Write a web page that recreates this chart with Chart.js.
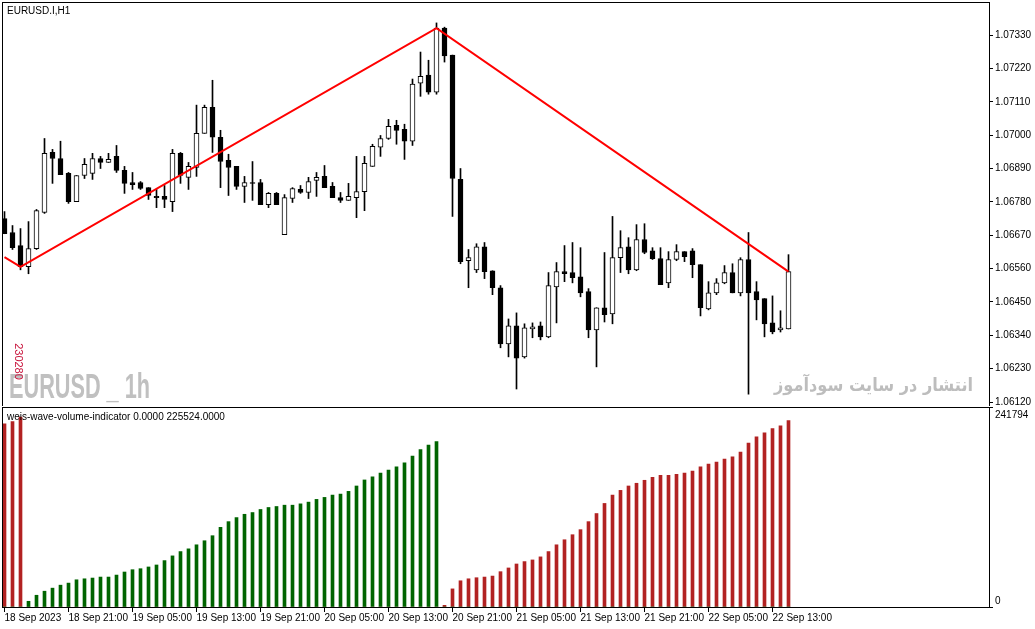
<!DOCTYPE html>
<html lang="fa">
<head>
    <meta charset="UTF-8">
    <title>EURUSD.I,H1</title>
    <style>
        body {
            margin: 0;
            background: #fff;
            font-family: "Liberation Sans", Arial, sans-serif;
        }
        .pane {
            position: absolute;
            left: 0;
        }
        #pricePane { top: 0; }
        #wavePane { top: 406px; }
    </style>
</head>
<body>
    <div class="pane" id="pricePane"><canvas id="priceChart" width="1035" height="406"></canvas></div>
    <div class="pane" id="wavePane"><canvas id="waveChart" width="1035" height="223"></canvas></div>

    <script src="https://cdn.jsdelivr.net/npm/chart.js"></script>
    <script>
        // EURUSD H1 candles, 18-22 Sep 2023
        const opens = [
            1.06725, 1.06679, 1.06636, 1.06566, 1.06626, 1.06745, 1.06943, 1.06923, 1.06874, 1.06781,
            1.06867, 1.06874, 1.06923, 1.06910, 1.06930, 1.06884, 1.06844, 1.06844, 1.06827, 1.06798,
            1.06798, 1.06781, 1.06940, 1.06861, 1.06894, 1.07006, 1.07092, 1.06993, 1.06917, 1.06897,
            1.06831, 1.06844, 1.06844, 1.06771, 1.06808, 1.06672, 1.06791, 1.06821, 1.06811, 1.06851,
            1.06864, 1.06831, 1.06794, 1.06785, 1.06794, 1.06814, 1.06897, 1.06960, 1.06989, 1.07032,
            1.07019, 1.06980, 1.07171, 1.07198, 1.07142, 1.07353, 1.07264, 1.06854, 1.06586, 1.06556,
            1.06632, 1.06553, 1.06497, 1.06312, 1.06371, 1.06269, 1.06361, 1.06371, 1.06335, 1.06500,
            1.06550, 1.06547, 1.06533, 1.06484, 1.06358, 1.06431, 1.06411, 1.06596, 1.06632, 1.06556,
            1.06656, 1.06619, 1.06593, 1.06513, 1.06590, 1.06616, 1.06619, 1.06573, 1.06427, 1.06480,
            1.06513, 1.06547, 1.06480, 1.06590, 1.06484, 1.06461, 1.06381, 1.06358, 1.06361
        ];
        const highs = [
            1.06748, 1.06702, 1.06692, 1.06715, 1.06755, 1.06989, 1.06953, 1.06980, 1.06877, 1.06867,
            1.06923, 1.06940, 1.06930, 1.06940, 1.06966, 1.06897, 1.06877, 1.06847, 1.06827, 1.06821,
            1.06834, 1.06953, 1.06943, 1.06910, 1.07099, 1.07099, 1.07181, 1.07016, 1.06937, 1.06897,
            1.06864, 1.06913, 1.06854, 1.06811, 1.06811, 1.06804, 1.06827, 1.06834, 1.06861, 1.06877,
            1.06900, 1.06844, 1.06811, 1.06841, 1.06930, 1.06930, 1.06970, 1.06999, 1.07052, 1.07049,
            1.07036, 1.07185, 1.07274, 1.07247, 1.07370, 1.07356, 1.07264, 1.06890, 1.06623, 1.06642,
            1.06646, 1.06553, 1.06504, 1.06394, 1.06414, 1.06378, 1.06381, 1.06384, 1.06547, 1.06580,
            1.06636, 1.06646, 1.06629, 1.06494, 1.06431, 1.06613, 1.06732, 1.06685, 1.06662, 1.06705,
            1.06708, 1.06629, 1.06629, 1.06616, 1.06639, 1.06616, 1.06626, 1.06573, 1.06517, 1.06527,
            1.06570, 1.06576, 1.06596, 1.06679, 1.06517, 1.06461, 1.06470, 1.06421, 1.06606
        ];
        const lows = [
            1.06675, 1.06623, 1.06556, 1.06543, 1.06623, 1.06742, 1.06841, 1.06870, 1.06775, 1.06781,
            1.06857, 1.06854, 1.06890, 1.06910, 1.06877, 1.06808, 1.06821, 1.06821, 1.06788, 1.06761,
            1.06761, 1.06748, 1.06841, 1.06821, 1.06864, 1.07006, 1.06943, 1.06827, 1.06801, 1.06821,
            1.06778, 1.06785, 1.06771, 1.06761, 1.06771, 1.06672, 1.06778, 1.06808, 1.06791, 1.06798,
            1.06827, 1.06794, 1.06778, 1.06785, 1.06728, 1.06751, 1.06897, 1.06930, 1.06986, 1.06970,
            1.06920, 1.06966, 1.07128, 1.07135, 1.07135, 1.07241, 1.06732, 1.06576, 1.06497, 1.06547,
            1.06527, 1.06474, 1.06299, 1.06269, 1.06163, 1.06265, 1.06332, 1.06325, 1.06332, 1.06381,
            1.06517, 1.06513, 1.06467, 1.06332, 1.06236, 1.06384, 1.06378, 1.06547, 1.06543, 1.06553,
            1.06609, 1.06590, 1.06507, 1.06497, 1.06586, 1.06583, 1.06530, 1.06404, 1.06424, 1.06474,
            1.06510, 1.06480, 1.06470, 1.06146, 1.06391, 1.06335, 1.06345, 1.06351, 1.06361
        ];
        const closes = [
            1.06675, 1.06629, 1.06566, 1.06626, 1.06751, 1.06940, 1.06923, 1.06870, 1.06781, 1.06867,
            1.06904, 1.06923, 1.06910, 1.06920, 1.06884, 1.06841, 1.06837, 1.06824, 1.06801, 1.06794,
            1.06788, 1.06940, 1.06867, 1.06897, 1.07006, 1.07092, 1.06993, 1.06913, 1.06894, 1.06831,
            1.06844, 1.06841, 1.06771, 1.06808, 1.06771, 1.06794, 1.06824, 1.06811, 1.06847, 1.06861,
            1.06827, 1.06794, 1.06785, 1.06798, 1.06814, 1.06907, 1.06963, 1.06989, 1.07029, 1.07016,
            1.06980, 1.07168, 1.07194, 1.07142, 1.07353, 1.07261, 1.06857, 1.06583, 1.06596, 1.06632,
            1.06550, 1.06497, 1.06312, 1.06371, 1.06265, 1.06365, 1.06368, 1.06335, 1.06504, 1.06550,
            1.06543, 1.06530, 1.06480, 1.06358, 1.06431, 1.06408, 1.06596, 1.06629, 1.06556, 1.06656,
            1.06613, 1.06593, 1.06507, 1.06590, 1.06616, 1.06599, 1.06573, 1.06431, 1.06480, 1.06513,
            1.06547, 1.06480, 1.06590, 1.06480, 1.06457, 1.06378, 1.06351, 1.06365, 1.06550
        ];

        // zigzag pivots (bar index / price)
        const zigzagBars = [0, 2, 54, 98];
        const zigzagPrices = [1.06598, 1.06566, 1.07353, 1.06550];

        // weis wave volume: up wave buffer and down wave buffer
        const upWave = [
            0, 0, 0, 6900, 14200, 19100, 22800, 26400, 28900, 32900,
            34100, 35000, 36200, 36200, 38600, 42300, 45100, 46300, 48400, 50800,
            56100, 61800, 67000, 70300, 75200, 80100, 86200, 96300, 103200, 108100,
            112100, 114200, 117900, 120300, 121500, 123100, 123100, 124700, 126800, 130100,
            132500, 135300, 136500, 139800, 146300, 153600, 157300, 161800, 165400, 169400,
            174300, 182500, 190200, 195900, 199900, 0, 0, 0, 0, 0,
            0, 0, 0, 0, 0, 0, 0, 0, 0, 0,
            0, 0, 0, 0, 0, 0, 0, 0, 0, 0,
            0, 0, 0, 0, 0, 0, 0, 0, 0, 0,
            0, 0, 0, 0, 0, 0, 0, 0, 0
        ];
        const downWave = [
            221500, 224300, 229600, 0, 0, 0, 0, 0, 0, 0,
            0, 0, 0, 0, 0, 0, 0, 0, 0, 0,
            0, 0, 0, 0, 0, 0, 0, 0, 0, 0,
            0, 0, 0, 0, 0, 0, 0, 0, 0, 0,
            0, 0, 0, 0, 0, 0, 0, 0, 0, 0,
            0, 0, 0, 0, 0, 2000, 21900, 31700, 34100, 35400,
            36200, 37400, 42700, 47200, 52000, 54900, 56900, 60600, 67000, 75200,
            81300, 87400, 93500, 103200, 113000, 125200, 135300, 141000, 146300, 149600,
            153200, 156900, 159300, 159300, 160500, 161800, 164200, 169400, 172700, 175200,
            178800, 181600, 187300, 198300, 205600, 210500, 215800, 219000, 225524
        ];

        // axis ticks
        const priceTicks = [1.07330, 1.07220, 1.07110, 1.07000, 1.06890, 1.06780, 1.06670, 1.06560, 1.06450, 1.06340, 1.06230, 1.06120];
        const waveTicks = [0, 241794];
        const labelBars = [0, 8, 16, 24, 32, 40, 48, 56, 64, 72, 80, 88, 96];
        const timeLabels = ['18 Sep 2023', '18 Sep 21:00', '19 Sep 05:00', '19 Sep 13:00', '19 Sep 21:00', '20 Sep 05:00',
            '20 Sep 13:00', '20 Sep 21:00', '21 Sep 05:00', '21 Sep 13:00', '21 Sep 21:00', '22 Sep 05:00', '22 Sep 13:00'];

        // shared view: 8px per bar, first bar close to the left edge
        const xMin = -0.3125, xMax = 123.0625;
        const priceMin = 1.06107, priceMax = 1.07439;
        const smallFont = { family: 'Liberation Sans', size: 10 };
        const bars = opens.map((_, i) => i);

        // black frame around the plot area, as in MT4
        const framePlugin = {
            id: 'frame',
            afterDraw(chart) {
                const a = chart.chartArea, ctx = chart.ctx;
                ctx.save();
                ctx.strokeStyle = '#000';
                ctx.lineWidth = 1;
                ctx.strokeRect(Math.floor(a.left) + 0.5, Math.floor(a.top) + 0.5,
                    Math.round(a.right - a.left), Math.round(a.bottom - a.top));
                ctx.restore();
            }
        };

        function fitText(ctx, text, x, y, width, align) {
            const w = ctx.measureText(text).width;
            const sx = w > 0 ? width / w : 1;
            ctx.save();
            ctx.translate(x, y);
            ctx.scale(sx, 1);
            ctx.textAlign = align;
            ctx.fillText(text, 0, 0);
            ctx.restore();
        }

        const priceTextPlugin = {
            id: 'priceText',
            beforeDatasetsDraw(chart) {
                const ctx = chart.ctx;
                ctx.save();
                ctx.textBaseline = 'alphabetic';
                ctx.fillStyle = '#c0c0c0';
                ctx.font = 'bold 35px "Liberation Sans"';
                fitText(ctx, 'EURUSD _ 1h', 9, 398, 141, 'left');
                ctx.fillStyle = '#bdbdbd';
                ctx.font = 'bold 18px "DejaVu Sans"';
                fitText(ctx, 'انتشار در سایت سودآموز', 973, 391, 199, 'right');
                ctx.restore();
            },
            afterDraw(chart) {
                const ctx = chart.ctx;
                ctx.save();
                ctx.fillStyle = '#000';
                ctx.font = '10px "Liberation Sans"';
                ctx.textBaseline = 'middle';
                ctx.fillText('EURUSD.I,H1', 7, 11);
                ctx.translate(18.5, 361.5);
                ctx.rotate(Math.PI / 2);
                ctx.fillStyle = '#c8143c';
                ctx.font = '11px "Liberation Sans"';
                ctx.textAlign = 'center';
                ctx.fillText('230280', 0, 0);
                ctx.restore();
            }
        };

        const waveTextPlugin = {
            id: 'waveText',
            afterDraw(chart) {
                const ctx = chart.ctx;
                ctx.save();
                ctx.fillStyle = '#000';
                ctx.font = '10px "Liberation Sans"';
                ctx.textBaseline = 'middle';
                ctx.fillText('weis-wave-volume-indicator 0.0000 ' + downWave[downWave.length - 1].toFixed(4), 7, 11);
                ctx.fillText(String(waveTicks[1]), 995, 9);
                ctx.fillText(String(waveTicks[0]), 995, 195);
                ctx.restore();
            }
        };

        // price pane: wicks, bodies, zigzag
        new Chart(document.getElementById('priceChart'), {
            type: 'bar',
            data: {
                datasets: [
                    {
                        type: 'line',
                        data: zigzagBars.map((b, k) => ({ x: b, y: zigzagPrices[k] })),
                        borderColor: '#ff0000',
                        borderWidth: 2,
                        pointRadius: 0,
                        tension: 0,
                        order: 0
                    },
                    {
                        data: bars.map(i => ({ x: i, y: [opens[i], closes[i]] })),
                        backgroundColor: bars.map(i => closes[i] >= opens[i] ? '#ffffff' : '#000000'),
                        borderColor: '#000',
                        borderWidth: 1,
                        borderSkipped: false,
                        barThickness: 5,
                        grouped: false,
                        order: 1
                    },
                    {
                        data: bars.map(i => ({ x: i, y: [lows[i], highs[i]] })),
                        backgroundColor: '#000',
                        borderWidth: 0,
                        barThickness: 1,
                        grouped: false,
                        order: 2
                    }
                ]
            },
            options: {
                responsive: false,
                animation: false,
                events: [],
                layout: { padding: { left: 2, top: 2, right: 0, bottom: 0 } },
                plugins: { legend: { display: false }, tooltip: { enabled: false } },
                scales: {
                    x: { type: 'linear', display: false, min: xMin, max: xMax, offset: false, grid: { offset: false } },
                    y: {
                        position: 'right',
                        min: priceMin,
                        max: priceMax,
                        afterBuildTicks: s => { s.ticks = priceTicks.map(v => ({ value: v })); },
                        afterFit: s => { s.width = 46; s.paddingTop = 0; s.paddingBottom = 0; },
                        ticks: { callback: v => v.toFixed(5), font: smallFont, color: '#000', padding: 2 },
                        grid: { drawOnChartArea: false, tickLength: 4, color: '#000' },
                        border: { display: false }
                    }
                }
            },
            plugins: [priceTextPlugin, framePlugin]
        });

        // weis wave pane
        new Chart(document.getElementById('waveChart'), {
            type: 'bar',
            data: {
                datasets: [
                    {
                        data: bars.map(i => ({ x: i, y: upWave[i] })),
                        backgroundColor: '#006400',
                        barThickness: 3,
                        grouped: false
                    },
                    {
                        data: bars.map(i => ({ x: i, y: downWave[i] })),
                        backgroundColor: '#b22222',
                        barThickness: 3,
                        grouped: false
                    }
                ]
            },
            options: {
                responsive: false,
                animation: false,
                events: [],
                layout: { padding: { left: 2, top: 1, right: 0, bottom: 0 } },
                plugins: { legend: { display: false }, tooltip: { enabled: false } },
                scales: {
                    x: {
                        type: 'linear',
                        min: xMin,
                        max: xMax,
                        offset: false,
                        afterBuildTicks: s => { s.ticks = labelBars.map(v => ({ value: v })); },
                        afterFit: s => { s.height = 22; s.paddingLeft = 0; s.paddingRight = 0; },
                        ticks: {
                            callback: (v, idx) => timeLabels[idx],
                            autoSkip: false,
                            maxRotation: 0,
                            minRotation: 0,
                            align: 'start',
                            font: smallFont,
                            color: '#000',
                            padding: 0
                        },
                        grid: { drawOnChartArea: false, tickLength: 5, color: '#000', offset: false },
                        border: { display: false }
                    },
                    y: {
                        position: 'right',
                        min: waveTicks[0],
                        max: waveTicks[1],
                        afterBuildTicks: s => { s.ticks = waveTicks.map(v => ({ value: v })); },
                        afterFit: s => { s.width = 46; s.paddingTop = 0; s.paddingBottom = 0; },
                        ticks: { display: false },
                        grid: { drawOnChartArea: false, tickLength: 4, color: '#000' },
                        border: { display: false }
                    }
                }
            },
            plugins: [waveTextPlugin, framePlugin]
        });
    </script>
</body>
</html>
